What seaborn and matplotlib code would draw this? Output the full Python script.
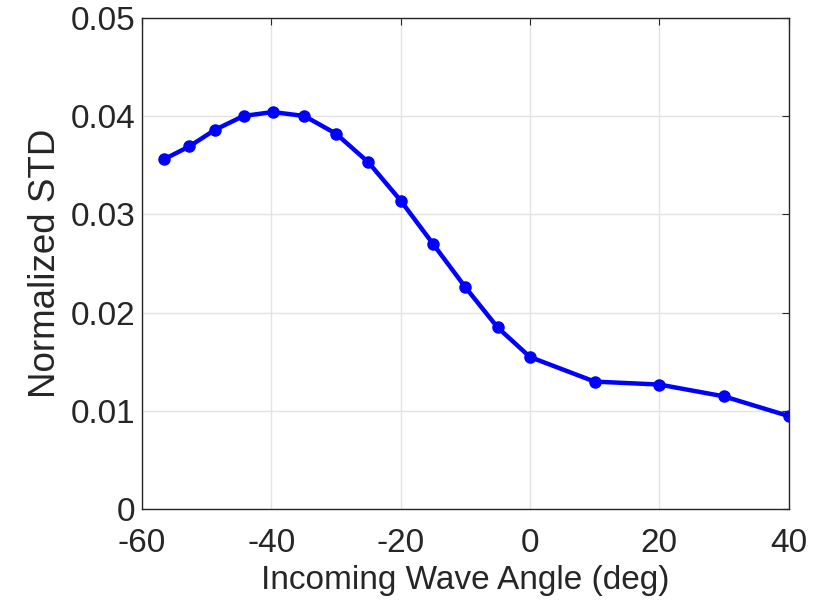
import matplotlib
matplotlib.use("Agg")
import matplotlib.pyplot as plt
import seaborn as sns
import pandas as pd

angles = [-56.6, -52.7, -48.7, -44.3, -39.8, -34.9, -30, -25, -20, -15, -10, -5, 0, 10, 20, 30, 40]
norm_std = [0.0356, 0.0369, 0.0386, 0.0400, 0.0404, 0.0400, 0.0382, 0.0353, 0.0314, 0.0270, 0.0226,
            0.0185, 0.0155, 0.0130, 0.0127, 0.0115, 0.0095]
x_ticks = [-60, -40, -20, 0, 20, 40]
y_ticks = [0, 0.01, 0.02, 0.03, 0.04, 0.05]
y_tick_labels = ["0", "0.01", "0.02", "0.03", "0.04", "0.05"]

sns.set_style("white")
plt.rcParams["font.family"] = ["Liberation Sans", "DejaVu Sans"]

df = pd.DataFrame({"angle": angles, "std": norm_std})

fig = plt.figure(figsize=(8.33, 6.09), dpi=100)
ax = fig.add_axes([0.1705, 0.1634, 0.7762, 0.8077])

sns.lineplot(data=df, x="angle", y="std", ax=ax, color="#0000ff", linewidth=3.2,
             marker="o", markersize=8, markeredgecolor="#0000ff", markeredgewidth=1,
             estimator=None, sort=False)

ax.set_xlim(-60, 40)
ax.set_ylim(0, 0.05)
ax.set_xticks(x_ticks)
ax.set_xticklabels([str(v) for v in x_ticks])
ax.set_yticks(y_ticks)
ax.set_yticklabels(y_tick_labels)

ax.grid(True, color="#e3e3e3", linewidth=1.0)
ax.set_axisbelow(True)
for s in ax.spines.values():
    s.set_color("#262626")
    s.set_linewidth(1.0)
    s.set_visible(True)

ax.tick_params(axis="both", direction="in", length=5, width=0.8, color="#262626",
               labelsize=24, labelcolor="#262626", top=True, right=True)
ax.tick_params(axis="x", pad=13)
ax.tick_params(axis="y", pad=5)
ax.set_xlabel("Incoming Wave Angle (deg)", fontsize=24, color="#262626", labelpad=5)
ax.set_ylabel("Normalized STD", fontsize=26.5, color="#262626", labelpad=5)

fig.savefig("out.png", dpi=100)
